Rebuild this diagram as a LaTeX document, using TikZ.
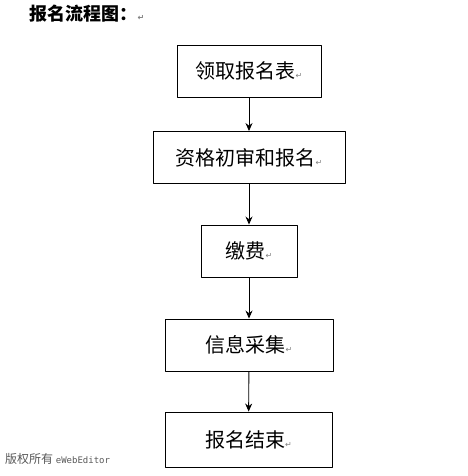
\documentclass[tikz,border=0pt]{standalone}
\usepackage{fontspec}
\setmainfont{Noto Sans CJK SC}
\newfontfamily\symfont{DejaVu Sans}
\setmonofont{DejaVu Sans Mono}
\usepackage{xcolor}
\usetikzlibrary{arrows.meta}
\tikzset{
  every picture/.style={line join=round, >={Stealth[length=8pt,width=7pt]}},
  stepbox/.style={draw, line width=0.9pt, minimum height=52pt, inner sep=0pt,
    font=\fontsize{20}{20}\selectfont},
  flow/.style={->, line width=0.9pt},
}
\newcommand{\retmark}{{\symfont\fontsize{8}{8}\selectfont\color{gray}↵}}

\begin{document}
\begin{tikzpicture}[x=1pt,y=-1pt]
\fill[white] (0,0) rectangle (467,476);
\useasboundingbox (0,0) rectangle (467,476);
\node[anchor=west, font=\fontsize{18}{18}\selectfont\bfseries] (title) at (26,14) {报名流程图：\retmark};
\node[stepbox, minimum width=144pt] (form) at (249,71) {领取报名表\retmark};
\node[stepbox, minimum width=192pt] (check) at (249,157.5) {资格初审和报名\retmark};
\node[stepbox, minimum width=96pt] (pay) at (249,251) {缴费\retmark};
\node[stepbox, minimum width=168pt] (info) at (249,345) {信息采集\retmark};
\node[stepbox, minimum width=167pt, minimum height=55pt] (done) at (248.5,439.5) {报名结束\retmark};
\draw[flow] (form) -- (check);
\draw[flow] (check) -- (pay);
\draw[flow] (pay) -- (info);
\draw[flow] (info) -- (done);
% watermark
\node[anchor=west, text=gray!70!black, inner sep=0pt] (mark) at (5,459)
  {\fontsize{12}{12}\selectfont 版权所有\ \ttfamily\fontsize{9}{9}\selectfont eWebEditor};
\end{tikzpicture}
\end{document}
